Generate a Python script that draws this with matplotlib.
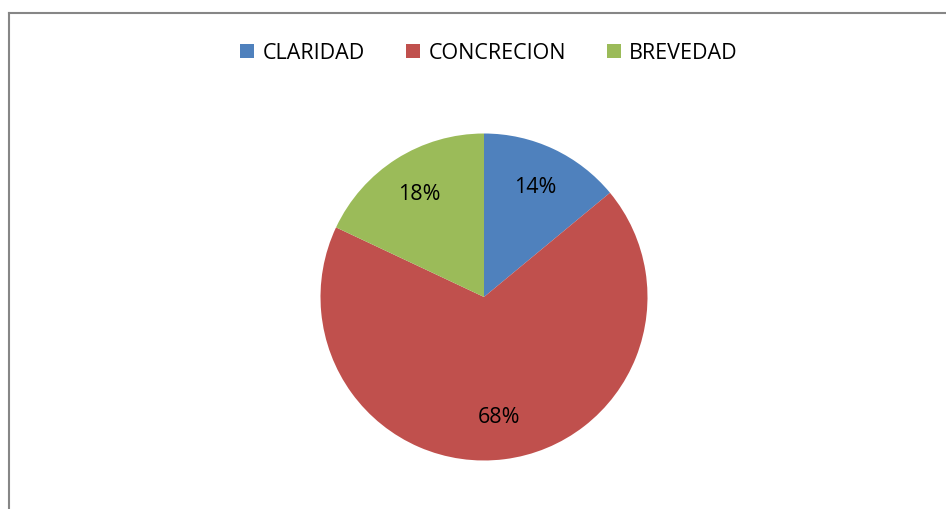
import matplotlib.pyplot as plt
from matplotlib.lines import Line2D
from matplotlib.patches import Patch

categories = ['CLARIDAD', 'CONCRECION', 'BREVEDAD']
values = [14, 68, 18]
colors = ['#4F81BD', '#C0504D', '#9BBB59']

plt.rcParams['font.family'] = ['Open Sans', 'DejaVu Sans']

W, H = 946, 509
fig = plt.figure(figsize=(W / 100, H / 100), dpi=100)

# chart border (continues past right and bottom edge)
fig.add_artist(Line2D([9 / W, 9 / W], [0, 1 - 13 / H], color='#868686', lw=1.5))
fig.add_artist(Line2D([9 / W, 1], [1 - 13 / H, 1 - 13 / H], color='#868686', lw=1.5))

# pie axes, centre (484, 297) px, radius ~163 px
cx, cy, r = 484, 297, 163.5
ax = fig.add_axes([(cx - r) / W, (H - cy - r) / H, 2 * r / W, 2 * r / H])
wedges, texts, autotexts = ax.pie(values, colors=colors, startangle=90, counterclock=False,
                                  autopct='%1.0f%%', pctdistance=0.74,
                                  textprops={'fontsize': 15.5, 'color': 'black'},
                                  wedgeprops={'linewidth': 0})
ax.set_xlim(-1, 1)
ax.set_ylim(-1, 1)

handles = [Patch(facecolor=c, edgecolor='none') for c in colors]
fig.legend(handles, categories, loc='center', bbox_to_anchor=(489 / W, 1 - 53 / H),
           ncol=3, frameon=False, fontsize=15.5, handlelength=0.65, handleheight=0.65,
           handletextpad=0.4, columnspacing=1.9)

fig.savefig('out.png', dpi=100)
